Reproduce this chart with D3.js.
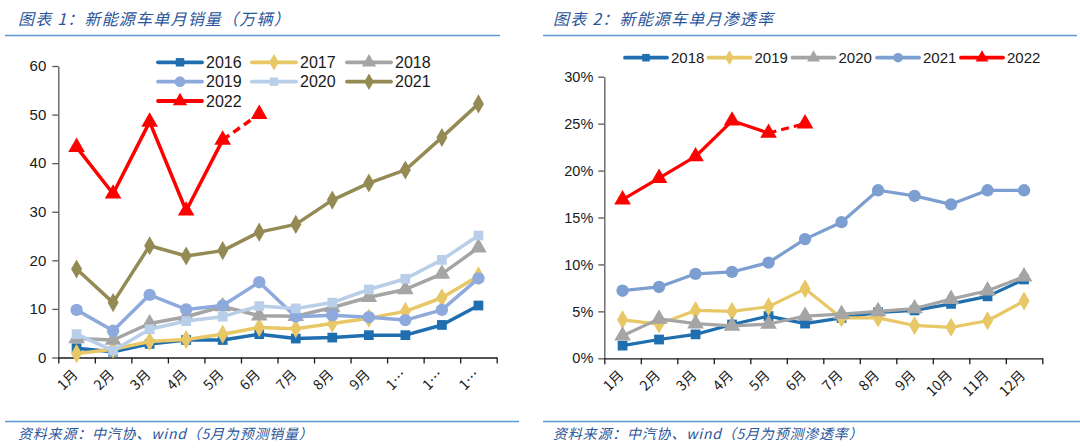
<!DOCTYPE html>
<html><head><meta charset="utf-8">
<script src="https://cdn.jsdelivr.net/npm/d3@7"></script>
<style>
body{margin:0;background:#fff;}
svg{display:block;font-family:"Liberation Sans",Arial,sans-serif;}
.cn{font-family:"Noto Sans CJK SC","Liberation Sans",sans-serif;}
</style></head><body>
<svg id="c" width="1080" height="448"></svg>
<script>
// ---------- DATA ----------
const months = ["1月","2月","3月","4月","5月","6月","7月","8月","9月","10月","11月","12月"];
const leftTickLabels = ["1月","2月","3月","4月","5月","6月","7月","8月","9月","1…","1…","1…"];
const rightTickLabels = ["1月","2月","3月","4月","5月","6月","7月","8月","9月","10月","11月","12月"];
const leftYTicks = [0,10,20,30,40,50,60];
const rightYTicks = [0,0.05,0.10,0.15,0.20,0.25,0.30];

// Left: monthly sales (10k units)
const sales2016 = [1.9,1.2,2.8,3.6,3.6,4.8,3.9,4.1,4.6,4.6,6.7,10.7];
const sales2017 = [0.8,1.7,3.3,3.7,4.8,6.2,5.9,7.0,8.1,9.5,12.3,16.8];
const sales2018 = [3.9,3.6,7.0,8.4,10.5,8.6,8.5,10.3,12.4,14.0,17.2,22.6];
const sales2019 = [9.8,5.5,12.9,9.9,10.7,15.5,8.4,8.7,8.3,7.7,9.8,16.3];
const sales2020 = [4.8,1.4,5.8,7.5,8.4,10.6,10.1,11.3,14.0,16.2,20.1,25.1];
const sales2021 = [18.2,11.3,23.0,20.9,22.0,25.8,27.4,32.4,35.9,38.6,45.3,52.2];
const sales2022 = [43.3,33.7,48.5,30.2,44.8,50.1];

// Right: monthly penetration rate
const pen2018 = [0.0135,0.020,0.0255,0.036,0.045,0.037,0.043,0.049,0.051,0.058,0.066,0.084];
const pen2019 = [0.041,0.0365,0.051,0.050,0.055,0.074,0.043,0.043,0.035,0.033,0.040,0.061];
const pen2020 = [0.024,0.042,0.037,0.0345,0.0365,0.045,0.047,0.050,0.053,0.063,0.072,0.087];
const pen2021 = [0.072,0.076,0.090,0.092,0.102,0.127,0.145,0.179,0.173,0.164,0.179,0.179];
const pen2022 = [0.169,0.192,0.215,0.253,0.240,0.250];

const forecastFrom = 4; // index of last actual month (5月 onward dashed)

// ---------- STYLES ----------
const leftSeries = [
  {name:"2016", values:sales2016, color:"#1f6eb0", marker:"square"},
  {name:"2017", values:sales2017, color:"#e8c766", marker:"diamond"},
  {name:"2018", values:sales2018, color:"#a5a5a5", marker:"triangle"},
  {name:"2019", values:sales2019, color:"#8eaadc", marker:"circle"},
  {name:"2020", values:sales2020, color:"#b9cfe9", marker:"square"},
  {name:"2021", values:sales2021, color:"#948a54", marker:"diamond"},
  {name:"2022", values:sales2022, color:"#ff0000", marker:"triangle", dashed:true}
];
const rightSeries = [
  {name:"2018", values:pen2018, color:"#1f6eb0", marker:"square"},
  {name:"2019", values:pen2019, color:"#e8c766", marker:"diamond"},
  {name:"2020", values:pen2020, color:"#a5a5a5", marker:"triangle"},
  {name:"2021", values:pen2021, color:"#7c9ed0", marker:"circle"},
  {name:"2022", values:pen2022, color:"#ff0000", marker:"triangle", dashed:true}
];

const svg = d3.select("#c");
const titleColor = "#2a559a";
const ruleColor = "#5b9bd5";

function symbolPath(type, size){
  const t = {square:d3.symbolSquare, diamond:d3.symbolDiamond, triangle:d3.symbolTriangle, circle:d3.symbolCircle}[type];
  return d3.symbol().type(t).size(size)();
}
const markerSize = {square:95, diamond:105, triangle:120, circle:120};

// ---------- HEADERS / FOOTERS ----------
function header(x, x1, x2, text){
  svg.append("text").attr("class","cn").attr("x",x).attr("y",25)
    .attr("font-size",16).attr("font-style","italic").attr("letter-spacing",1.2)
    .attr("fill",titleColor).text(text);
  svg.append("line").attr("x1",x1).attr("x2",x2).attr("y1",35.5).attr("y2",35.5)
    .attr("stroke",ruleColor).attr("stroke-width",1.5);
}
function footer(x, x1, x2, text){
  svg.append("line").attr("x1",x1).attr("x2",x2).attr("y1",421.5).attr("y2",421.5)
    .attr("stroke",ruleColor).attr("stroke-width",1.5);
  svg.append("text").attr("class","cn").attr("x",x).attr("y",439)
    .attr("font-size",14).attr("font-style","italic").attr("letter-spacing",0.8)
    .attr("fill",titleColor).text(text);
}
header(18, 5, 500, "图表 1：新能源车单月销量（万辆）");
header(553, 543, 1077, "图表 2：新能源车单月渗透率");
footer(18, 5, 519, "资料来源：中汽协、wind（5月为预测销量）");
footer(553, 543, 1080, "资料来源：中汽协、wind（5月为预测渗透率）");

// ---------- CHART BUILDER ----------
function chart(cfg){
  const g = svg.append("g");
  const xBand = d3.scaleBand().domain(months).range([cfg.x0, cfg.x1]).padding(0);
  const xLin = d3.scaleLinear().domain([0,12]).range([cfg.x0, cfg.x1]);
  const y = d3.scaleLinear().domain(cfg.yDomain).range([cfg.yBottom, cfg.yTop]);

  // Y axis
  const ya = g.append("g").attr("transform",`translate(${cfg.x0},0)`)
    .call(d3.axisLeft(y).tickValues(cfg.yTicks).tickFormat(cfg.yFormat).tickSize(6).tickSizeOuter(0).tickPadding(cfg.yPad));
  ya.selectAll("text").attr("font-size",cfg.yFont).attr("fill","#1a1a1a").attr("font-family","Liberation Sans, Arial, sans-serif");
  ya.selectAll("line,path").attr("stroke","#595959").attr("stroke-width",1.3);

  // X axis (ticks at band boundaries)
  const xa = g.append("g").attr("transform",`translate(0,${cfg.yBottom})`)
    .call(d3.axisBottom(xLin).tickValues(d3.range(13)).tickFormat("").tickSize(6).tickSizeOuter(0));
  xa.selectAll("line,path").attr("stroke","#1a1a1a").attr("stroke-width",1.3);

  // X labels rotated
  g.selectAll(".xl").data(cfg.xLabels).join("text")
    .attr("class","cn")
    .attr("font-size",14).attr("fill","#1a1a1a")
    .attr("text-anchor","end")
    .attr("transform",(d,i)=>`translate(${xBand(months[i])+xBand.bandwidth()/2+2},${cfg.yBottom+18}) rotate(-45)`)
    .text(d=>d);

  const cx = i => xBand(months[i]) + xBand.bandwidth()/2;

  cfg.series.forEach(s=>{
    const line = d3.line().x((d,i)=>cx(i)).y(d=>y(d));
    if(s.dashed){
      const solid = s.values.slice(0, forecastFrom+1);
      g.append("path").attr("d", line(solid)).attr("fill","none")
        .attr("stroke",s.color).attr("stroke-width",cfg.lw).attr("stroke-linejoin","round");
      const dash = s.values.map((v,i)=>[i,v]).slice(forecastFrom);
      g.append("path").attr("d", d3.line().x(d=>cx(d[0])).y(d=>y(d[1]))(dash)).attr("fill","none")
        .attr("stroke",s.color).attr("stroke-width",cfg.lw).attr("stroke-dasharray","8,5");
    } else {
      g.append("path").attr("d", line(s.values)).attr("fill","none")
        .attr("stroke",s.color).attr("stroke-width",cfg.lw).attr("stroke-linejoin","round");
    }
    g.selectAll(null).data(s.values).join("path")
      .attr("d", symbolPath(s.marker, markerSize[s.marker]*cfg.ms))
      .attr("transform",(d,i)=>`translate(${cx(i)},${y(d)})`)
      .attr("fill",s.color);
  });

  // Legend
  cfg.legendPos.forEach((p,k)=>{
    const s = cfg.series[k];
    const lg = g.append("g").attr("transform",`translate(${p[0]},${p[1]})`);
    lg.append("line").attr("x1",0).attr("x2",cfg.legLen).attr("y1",0).attr("y2",0)
      .attr("stroke",s.color).attr("stroke-width",cfg.legLw).attr("stroke-linecap","round");
    lg.append("path").attr("d",symbolPath(s.marker, markerSize[s.marker]*cfg.legMs))
      .attr("transform",`translate(${cfg.legLen/2},0)`).attr("fill",s.color);
    lg.append("text").attr("x",cfg.legLen+4).attr("y",0).attr("dy","0.36em")
      .attr("font-size",cfg.legFont).attr("fill","#1a1a1a").text(s.name);
  });
}

chart({
  x0:58.3, x1:496.7, yBottom:357.5, yTop:66, yDomain:[0,60], yTicks:leftYTicks,
  yFormat:d3.format("d"), yPad:6, yFont:15, xLabels:leftTickLabels, series:leftSeries,
  lw:3.5, ms:1, legLen:44, legFont:16, legLw:3.8, legMs:0.75,
  legendPos:[[158,62.3],[252,62.3],[347,62.3],[158,81.7],[252,81.7],[347,81.7],[158,101]]
});
chart({
  x0:604.3, x1:1042.3, yBottom:358.3, yTop:76.7, yDomain:[0,0.30], yTicks:rightYTicks,
  yFormat:d3.format(".0%"), yPad:5, yFont:14.5, xLabels:rightTickLabels, series:rightSeries,
  lw:3.2, ms:1, legLen:42, legFont:15, legLw:3.8, legMs:0.6,
  legendPos:[[625,57.7],[708.5,57.7],[792.5,57.7],[877,57.7],[961,57.7]]
});
</script>
</body></html>
